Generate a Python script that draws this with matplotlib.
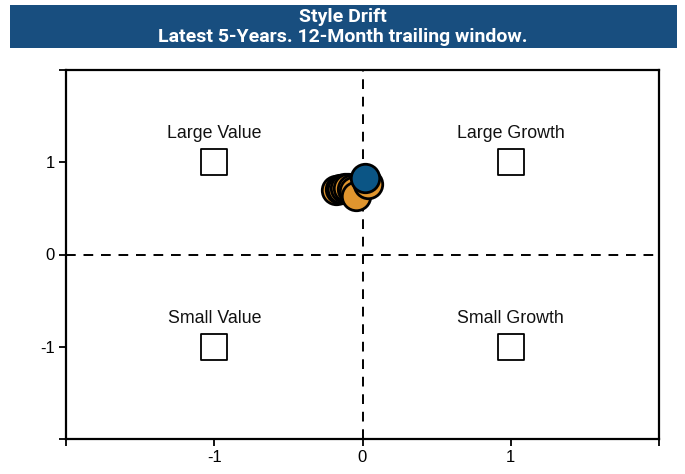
import matplotlib
matplotlib.use("Agg")
import matplotlib.pyplot as plt
from matplotlib.patches import Rectangle

# Style coordinates (value/growth on x, small/large on y), oldest first
style_x = [-0.176, -0.155, -0.135, -0.115, -0.095, -0.074, -0.054, -0.047, 0.034, 0.020]
style_y = [0.703, 0.714, 0.714, 0.724, 0.724, 0.714, 0.692, 0.638, 0.768, 0.832]

corner_labels = ["Large Value", "Large Growth", "Small Value", "Small Growth"]
corner_x = [-1, 1, -1, 1]
corner_y = [1, 1, -1, -1]

tick_values = [-2, -1, 0, 1, 2]
tick_labels = ["", "-1", "0", "1", ""]

title_lines = ["Style Drift", "Latest 5-Years. 12-Month trailing window."]

ORANGE = "#E0952E"
BLUE = "#0B5585"
HEADER = "#184E7F"

fig = plt.figure(figsize=(6.85, 4.74), dpi=100)

# header banner
fig.patches.append(Rectangle((10 / 685, 1 - 48 / 474), 667 / 685, 43 / 474,
                             transform=fig.transFigure, facecolor=HEADER,
                             edgecolor="none", zorder=0))
fig.text(0.5, 1 - 17 / 474, title_lines[0], ha="center", va="center",
         color="white", fontsize=14, fontweight="bold", family="Roboto")
fig.text(0.5, 1 - 37 / 474, title_lines[1], ha="center", va="center",
         color="white", fontsize=14, fontweight="bold", family="Roboto")

ax = fig.add_axes([66 / 685, 1 - 439 / 474, 593 / 685, 369 / 474])
ax.set_xlim(-2, 2)
ax.set_ylim(-2, 2)

for side in ax.spines.values():
    side.set_linewidth(1.6)
    side.set_color("black")

ax.set_xticks(tick_values)
ax.set_xticklabels(tick_labels)
ax.set_yticks(tick_values)
ax.set_yticklabels(tick_labels)
ax.tick_params(direction="out", length=5, width=1.3, labelsize=12,
               colors="black", pad=3)
for lab in ax.get_xticklabels() + ax.get_yticklabels():
    lab.set_family("Liberation Sans")

ax.axhline(0, color="black", lw=1.4, ls=(0, (5, 4)), zorder=1)
ax.axvline(0, color="black", lw=1.4, ls=(0, (5, 4)), zorder=1)

# quadrant reference boxes
ax.scatter(corner_x, corner_y, marker="s", s=330, facecolor="white",
           edgecolor="black", linewidth=1.3, zorder=2)
for lab, cx, cy in zip(corner_labels, corner_x, corner_y):
    ax.text(cx, cy + 0.31, lab, ha="center", va="center", fontsize=12.8,
            family="Liberation Sans", color="#111111")

# trailing-window style path, latest point highlighted
ax.scatter(style_x[:-1], style_y[:-1], s=420, facecolor=ORANGE,
           edgecolor="black", linewidth=2, zorder=3)
ax.scatter(style_x[-1:], style_y[-1:], s=420, facecolor=BLUE,
           edgecolor="black", linewidth=2, zorder=4)

fig.savefig("out.png", dpi=100)
